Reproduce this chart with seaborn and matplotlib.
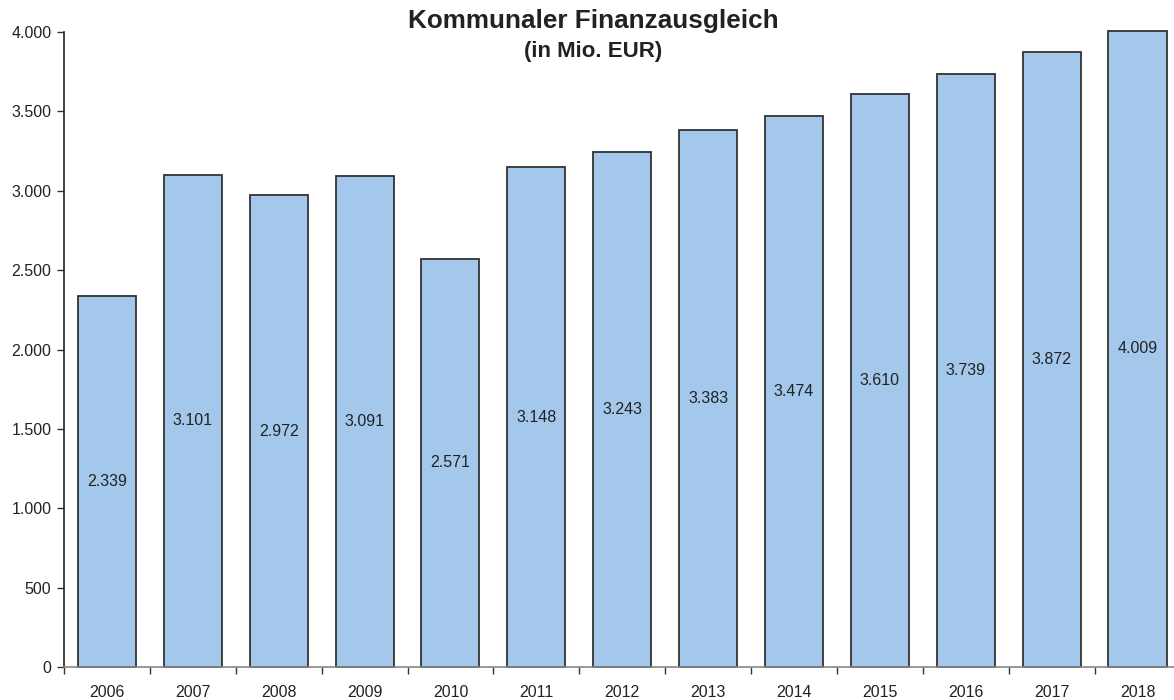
import numpy as np
import pandas as pd
import matplotlib
matplotlib.use("Agg")
import matplotlib.pyplot as plt
import seaborn as sns
from matplotlib.ticker import FuncFormatter, FixedLocator

years = ["2006", "2007", "2008", "2009", "2010", "2011", "2012",
         "2013", "2014", "2015", "2016", "2017", "2018"]
values = [2339, 3101, 2972, 3091, 2571, 3148, 3243, 3383, 3474, 3610, 3739, 3872, 4009]

df = pd.DataFrame({"year": years, "value": values})

sns.set_style("white")
plt.rcParams['font.family'] = ['Liberation Sans', 'DejaVu Sans']

fig = plt.figure(figsize=(11.74, 7), dpi=100)
ax = fig.add_axes([0.0545, 0.0471, 0.951, 0.907])

sns.barplot(data=df, x="year", y="value", color="#a3c8ec", saturation=1,
            edgecolor="#333333", linewidth=1.3, width=0.676, ax=ax)
for p in ax.patches:
    p.set_clip_on(False)

# value labels in the middle of each bar
for i, v in enumerate(values):
    ax.text(i, v / 2, f"{v:,}".replace(",", "."), ha="center", va="center",
            fontsize=11.5, color="#222222")

ax.set_xlim(-0.5, len(years) - 0.5)
ax.set_ylim(0, 4000)
ax.set_yticks(np.arange(0, 4001, 500))
ax.yaxis.set_major_formatter(FuncFormatter(lambda v, p: f"{int(v):,}".replace(",", ".")))

# tick marks between categories, labels at centres
ax.xaxis.set_major_locator(FixedLocator(np.arange(-0.5, len(years), 1)))
ax.xaxis.set_minor_locator(FixedLocator(np.arange(len(years))))
ax.set_xticklabels([])
ax.set_xticklabels(years, minor=True)
ax.tick_params(axis="x", which="major", length=5, width=1, color="#333333", direction="out", bottom=True)
ax.tick_params(axis="x", which="minor", length=0, labelsize=11.5, pad=13, labelcolor="#222222")
ax.tick_params(axis="y", length=5, width=1, color="#333333", direction="out", left=True,
               labelsize=11.5, labelcolor="#222222", pad=4)

ax.set_xlabel("")
ax.set_ylabel("")
sns.despine(ax=ax, top=True, right=True)
ax.spines["left"].set_color("#222222")
ax.spines["left"].set_linewidth(1.2)
ax.spines["bottom"].set_color("#888888")
ax.spines["bottom"].set_linewidth(1.2)

fig.text(0.505, 0.97, "Kommunaler Finanzausgleich", ha="center", va="center",
         fontsize=18.8, fontweight="bold", color="#222222")
fig.text(0.505, 0.927, "(in Mio. EUR)", ha="center", va="center",
         fontsize=16, fontweight="bold", color="#222222")

fig.savefig("out.png", dpi=100)
